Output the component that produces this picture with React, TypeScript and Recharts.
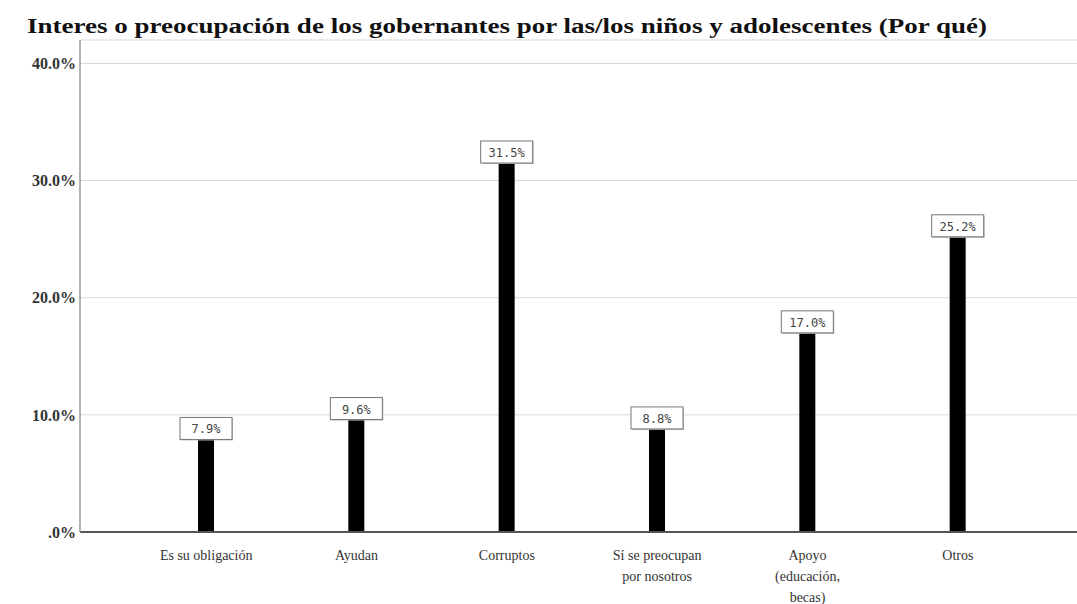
import React from 'react';
import { BarChart, Bar, XAxis, YAxis, CartesianGrid, LabelList } from 'recharts';

const categories = ['Es su obligación', 'Ayudan', 'Corruptos', 'Sí se preocupan por nosotros', 'Apoyo (educación, becas)', 'Otros'];
const percents = [7.9, 9.6, 31.5, 8.8, 17.0, 25.2];
const yTicks = [0, 10, 20, 30, 40];

const data = categories.map((name, i) => ({ name, value: percents[i] }));

const TITLE = 'Interes o preocupación de los gobernantes por las/los niños y adolescentes (Por qué)';

const fmtTick = (v: number) => (v === 0 ? '.0%' : `${v.toFixed(1)}%`);

// greedy word wrap for the category labels
const wrap = (s: string, max: number) => {
    const lines: string[] = [];
    let cur = '';
    s.split(' ').forEach((w) => {
        const next = cur ? `${cur} ${w}` : w;
        if (next.length > max && cur) {
            lines.push(cur);
            cur = w;
        } else {
            cur = next;
        }
    });
    if (cur) lines.push(cur);
    return lines;
};

const CategoryTick = (props: any) => {
    const { x, y, payload } = props;
    const lines = wrap(payload.value, 16);
    return (
        <g transform={`translate(${x},${y})`}>
            {lines.map((l, i) => (
                <text key={i} x={0} y={20 + i * 21} textAnchor="middle" fontFamily="'Liberation Serif', serif" fontSize={14} fill="#333">
                    {l}
                </text>
            ))}
        </g>
    );
};

const ValueLabel = (props: any) => {
    const { x, y, width, value } = props;
    const cx = x + width / 2;
    const w = 52;
    const h = 22;
    return (
        <g>
            <rect x={cx - w / 2 + 1} y={y - h + 1} width={w} height={h} fill="#bbb" />
            <rect x={cx - w / 2} y={y - h} width={w} height={h} fill="#fff" stroke="#777" strokeWidth={1} />
            <text x={cx} y={y - 6} textAnchor="middle" fontFamily="'DejaVu Sans Mono', monospace" fontSize={12} fill="#444">
                {`${Number(value).toFixed(1)}%`}
            </text>
        </g>
    );
};

export default function App() {
    return (
        <div style={{ position: 'absolute', left: 0, top: 0, width: 1077, height: 604, background: '#fff' }}>
            <svg width={1077} height={40} style={{ position: 'absolute', left: 0, top: 0 }}>
                <text x={27} y={33} textLength={960} lengthAdjust="spacingAndGlyphs" fontFamily="'Liberation Serif', serif" fontWeight="bold" fontSize={20} fill="#111">
                    {TITLE}
                </text>
            </svg>
            <div style={{ position: 'absolute', left: 0, top: 0 }}>
                <BarChart width={1077} height={604} data={data} margin={{ top: 40, right: 0, bottom: 42, left: 0 }}>
                    <CartesianGrid vertical={false} stroke="#d8d8d8" />
                    <XAxis
                        dataKey="name"
                        height={30}
                        tick={<CategoryTick />}
                        tickLine={false}
                        axisLine={{ stroke: '#555', strokeWidth: 2 }}
                        padding={{ left: 51, right: 44 }}
                        interval={0}
                    />
                    <YAxis
                        width={80}
                        domain={[0, 42]}
                        ticks={yTicks}
                        tickFormatter={fmtTick}
                        tickLine={false}
                        axisLine={{ stroke: '#999', strokeWidth: 1.5 }}
                        tick={{ fontFamily: "'Liberation Serif', serif", fontWeight: 'bold', fontSize: 16, fill: '#333' }}
                        tickMargin={-2}
                    />
                    <Bar dataKey="value" fill="#000" barSize={16} isAnimationActive={false}>
                        <LabelList dataKey="value" content={<ValueLabel />} />
                    </Bar>
                </BarChart>
            </div>
        </div>
    );
}
